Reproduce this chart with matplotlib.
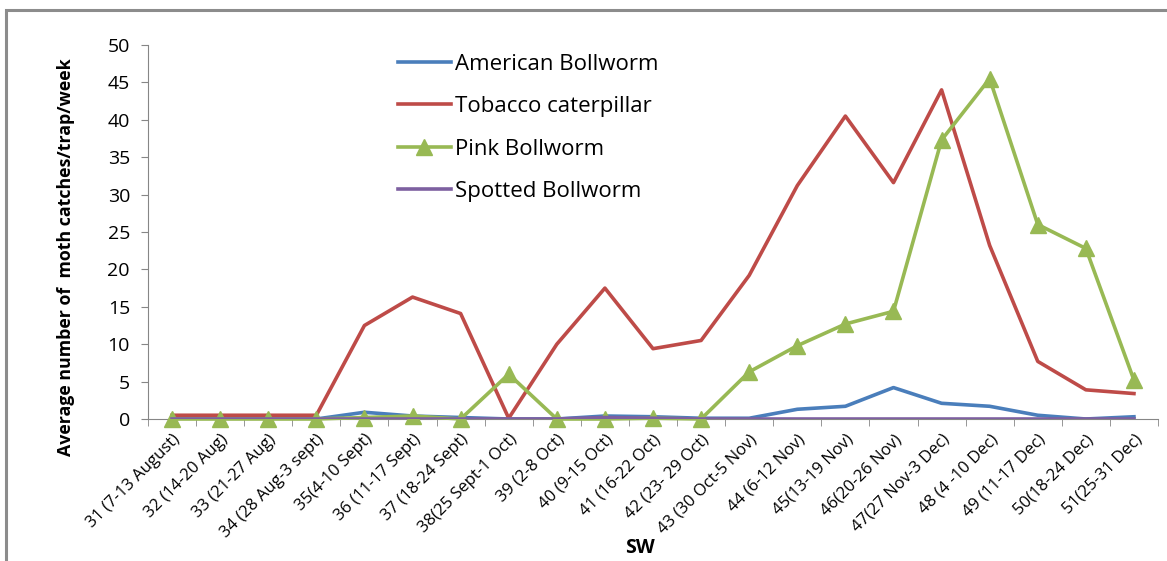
import numpy as np
import matplotlib.pyplot as plt
from matplotlib.patches import Rectangle

plt.rcParams['font.family'] = ['Open Sans', 'DejaVu Sans']

# standard weeks with date ranges
weeks = ['31 (7-13 August)', '32 (14-20 Aug)', '33 (21-27 Aug)', '34 (28 Aug-3 sept)',
         '35(4-10 Sept)', '36 (11-17 Sept)', '37 (18-24 Sept)', '38(25 Sept-1 Oct)',
         '39 (2-8 Oct)', '40 (9-15 Oct)', '41 (16-22 Oct)', '42 (23- 29 Oct)',
         '43 (30 Oct-5 Nov)', '44 (6-12 Nov)', '45(13-19 Nov)', '46(20-26 Nov)',
         '47(27 Nov-3 Dec)', '48 (4 -10 Dec)', '49 (11-17 Dec)', '50(18-24 Dec)',
         '51(25-31 Dec)']

american = [0, 0, 0, 0, 0.9, 0.4, 0.2, 0, 0, 0.4, 0.3, 0.1, 0.1, 1.3, 1.7, 4.2,
            2.1, 1.7, 0.5, 0, 0.3]
tobacco = [0.5, 0.5, 0.5, 0.5, 12.5, 16.3, 14.1, 0.1, 10.0, 17.5, 9.4, 10.5, 19.2,
           31.2, 40.5, 31.6, 44.0, 23.2, 7.7, 3.9, 3.4]
pink = [0, 0, 0, 0, 0.2, 0.4, 0, 6.0, 0, 0, 0.1, 0, 6.3, 9.8, 12.7, 14.4, 37.3,
        45.5, 26.0, 22.8, 5.2]
spotted = [0, 0, 0, 0, 0, 0, 0, 0, 0, 0.2, 0.1, 0, 0, 0, 0, 0, 0, 0, 0, 0, 0]

fig = plt.figure(figsize=(11.67, 5.61), dpi=100)
# chart area border
fig.patches.append(Rectangle((6 / 1167, -0.1), 1.2, 1 - 10 / 561 + 0.1,
                             transform=fig.transFigure, fill=False,
                             edgecolor='#8c8c8c', linewidth=2.2))

ax = fig.add_axes([148 / 1167, 142 / 561, 1010 / 1167, 374 / 561])
x = np.arange(len(weeks))

ax.plot(x, american, color='#4A7EBB', lw=2.6, label='American Bollworm', zorder=3)
ax.plot(x, tobacco, color='#BE4B48', lw=2.6, label='Tobacco caterpillar', zorder=4)
ax.plot(x, pink, color='#98B954', lw=2.6, marker='^', ms=12, label='Pink Bollworm',
        zorder=5, clip_on=False)
ax.plot(x, spotted, color='#7D60A0', lw=2.6, label='Spotted Bollworm', zorder=6)

ax.set_xlim(-0.5, len(weeks) - 0.5)
ax.set_ylim(0, 50)
ax.set_yticks(np.arange(0, 51, 5))
ax.tick_params(axis='y', labelsize=14, length=5, color='#868686', pad=8)

# category labels centred, ticks on the boundaries
ax.set_xticks(x)
ax.set_xticklabels(weeks, rotation=45, ha='right', rotation_mode='anchor', fontsize=12)
ax.tick_params(axis='x', which='major', length=0, pad=9)
ax.set_xticks(np.arange(-0.5, len(weeks)), minor=True)
ax.tick_params(axis='x', which='minor', length=5, color='#868686')

for s in ['top', 'right']:
    ax.spines[s].set_visible(False)
for s in ['left', 'bottom']:
    ax.spines[s].set_color('#868686')

ax.set_ylabel('Average number of  moth catches/trap/week', fontsize=12.8, fontweight='bold')
ax.yaxis.set_label_coords(-0.072, 0.433)
ax.set_xlabel('SW', fontsize=14, fontweight='bold')
ax.xaxis.set_label_coords(0.487, -0.318)

ax.legend(loc='upper left', bbox_to_anchor=(0.239, 1.0), borderaxespad=0,
          frameon=False, fontsize=16, handlelength=2.35, handletextpad=0.22,
          labelspacing=0.96)

fig.savefig('out.png', dpi=100)
